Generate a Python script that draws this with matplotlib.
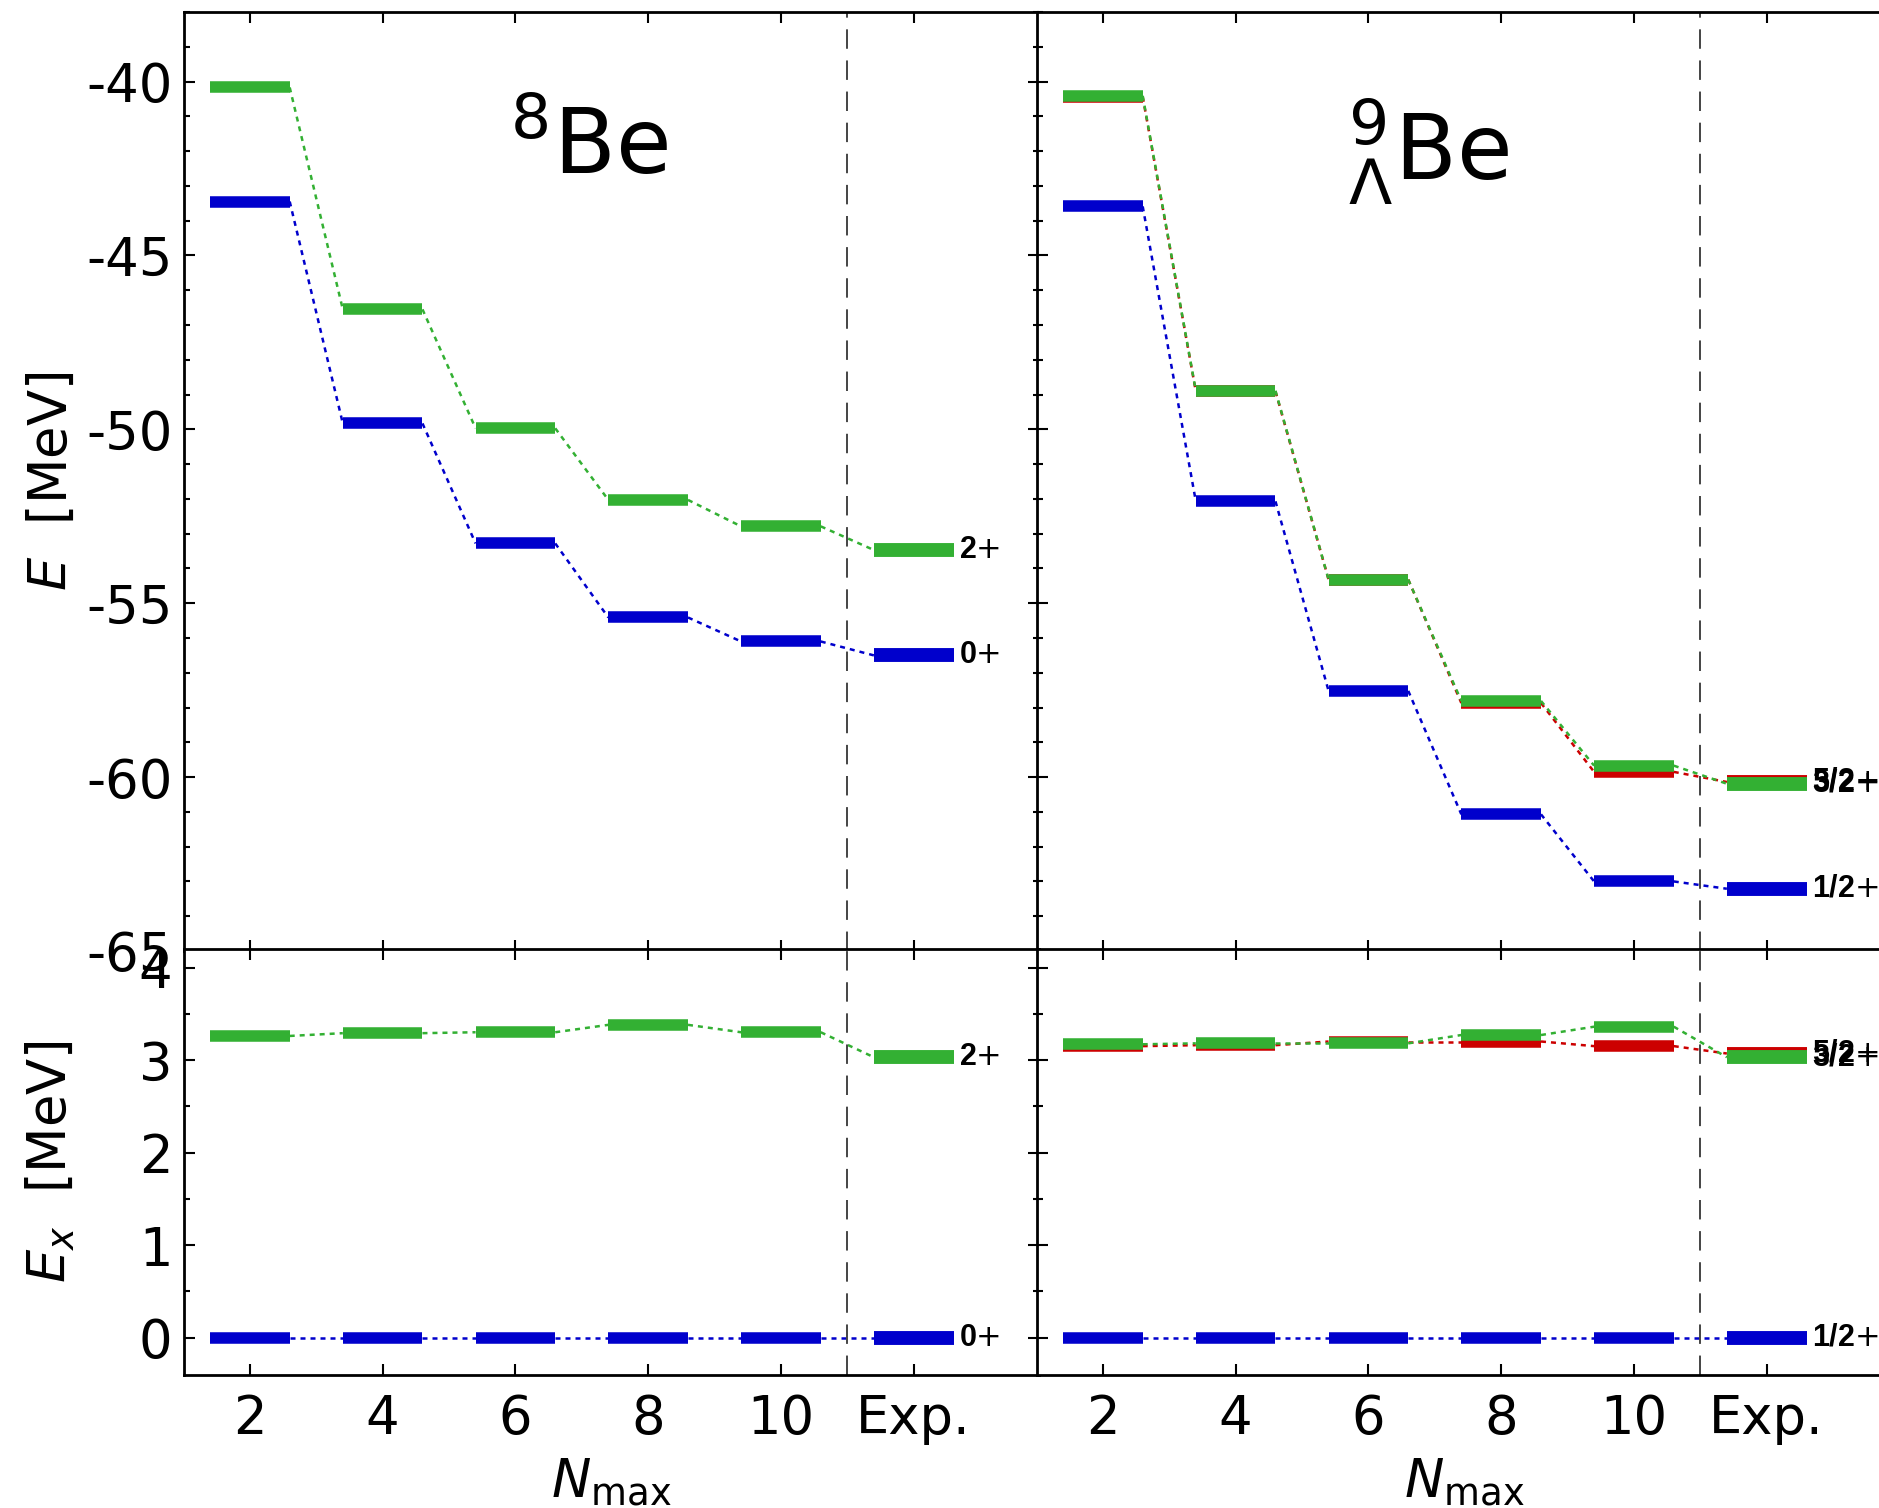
import numpy as np
import matplotlib
matplotlib.use("Agg")
import matplotlib.pyplot as plt

plt.rcParams['axes.unicode_minus'] = False
plt.rcParams['font.family'] = 'DejaVu Sans'
plt.rcParams['mathtext.fontset'] = 'dejavusans'

# x categories
nmax_labels = ["2", "4", "6", "8", "10", "Exp."]

# 8Be: absolute energies (MeV)
be8_0p = [-43.45, -49.83, -53.28, -55.41, -56.10, -56.50]
be8_2p = [-40.17, -46.55, -49.97, -52.03, -52.79, -53.47]
# 8Be: excitation energies
be8_ex_0p = [0.0, 0.0, 0.0, 0.0, 0.0, 0.0]
be8_ex_2p = [3.26, 3.29, 3.30, 3.38, 3.30, 3.03]

# 9_Lambda Be: absolute energies
l9be_12p = [-43.59, -52.07, -57.52, -61.07, -63.00, -63.21]
l9be_52p = [-40.44, -48.91, -54.32, -57.87, -59.85, -60.14]
l9be_32p = [-40.41, -48.89, -54.32, -57.81, -59.67, -60.19]
# 9_Lambda Be: excitation energies
l9be_ex_12p = [0.0, 0.0, 0.0, 0.0, 0.0, 0.0]
l9be_ex_52p = [3.15, 3.16, 3.20, 3.20, 3.15, 3.07]
l9be_ex_32p = [3.17, 3.18, 3.18, 3.27, 3.36, 3.03]

BLUE = '#0000cc'
GREEN = '#33b033'
RED = '#cc0000'
HW = 0.3


def levels(ax, vals, color, label=None, lsize=22):
    x = np.arange(len(vals))
    # theory bars
    ax.hlines(vals[:-1], x[:-1] - HW, x[:-1] + HW, colors=color, lw=8.3, capstyle='butt')
    # experiment bar, a bit thicker
    ax.hlines(vals[-1], x[-1] - HW, x[-1] + HW, colors=color, lw=10, capstyle='butt')
    for i in range(len(vals) - 1):
        ax.plot([x[i] + HW, x[i + 1] - HW], [vals[i], vals[i + 1]], color=color,
                lw=1.8, linestyle=(0, (2, 2)))
    if label:
        ax.text(x[-1] + HW + 0.04, vals[-1], label, color='black', fontsize=lsize,
                fontweight='bold', family='Liberation Sans', va='center', ha='left',
                clip_on=False)


W, H = 1879, 1508


def box(x0, x1, y0, y1):
    return [x0 / W, 1 - y1 / H, (x1 - x0) / W, (y1 - y0) / H]


fig = plt.figure(figsize=(W / 100, H / 100), dpi=100)
ax_tl = fig.add_axes(box(183.5, 1038.5, 12, 951))
ax_tr = fig.add_axes(box(1036.5, 1891.5, 12, 951))
ax_bl = fig.add_axes(box(183.5, 1038.5, 949, 1374.5))
ax_br = fig.add_axes(box(1036.5, 1891.5, 949, 1374.5))

levels(ax_tl, be8_0p, BLUE, "0$+$")
levels(ax_tl, be8_2p, GREEN, "2$+$")
levels(ax_bl, be8_ex_0p, BLUE, "0$+$")
levels(ax_bl, be8_ex_2p, GREEN, "2$+$")

levels(ax_tr, l9be_12p, BLUE, "1/2$+$")
levels(ax_tr, l9be_52p, RED, "5/2$+$")
levels(ax_tr, l9be_32p, GREEN, "3/2$+$")
levels(ax_br, l9be_ex_12p, BLUE, "1/2$+$")
levels(ax_br, l9be_ex_52p, RED, "5/2$+$")
levels(ax_br, l9be_ex_32p, GREEN, "3/2$+$")

for ax in (ax_tl, ax_tr, ax_bl, ax_br):
    ax.set_xlim(-0.5, 5.94)
    ax.axvline(4.5, color='#444444', lw=1.4, linestyle=(0, (10, 6)))
    ax.set_xticks(np.arange(6))
    ax.tick_params(which='both', direction='in', top=True, right=True, width=1.5)
    ax.tick_params(which='major', length=8, labelsize=38)
    ax.tick_params(which='minor', length=4)
    for s in ax.spines.values():
        s.set_linewidth(2)

for ax in (ax_tl, ax_tr):
    ax.set_ylim(-65, -38)
    ax.set_yticks([-65, -60, -55, -50, -45, -40])
    ax.set_yticks(np.arange(-65, -37, 1), minor=True)
    ax.set_xticklabels([])

for ax in (ax_bl, ax_br):
    ax.set_ylim(-0.4, 4.2)
    ax.set_yticks([0, 1, 2, 3, 4])
    ax.set_yticks(np.arange(0, 4.3, 0.5), minor=True)
    ax.set_xticklabels(nmax_labels)
    ax.tick_params(axis='x', pad=13)
    ax.set_xlabel(r"$N_{\rm max}$", fontsize=38, labelpad=8)

ax_tr.set_yticklabels([])
ax_br.set_yticklabels([])
ax_tl.tick_params(axis='y', pad=8)
ax_bl.tick_params(axis='y', pad=8)

ax_tl.set_ylabel(r"$E$  [MeV]", fontsize=38)
ax_bl.set_ylabel(r"$E_x$  [MeV]", fontsize=38)
ax_tl.yaxis.set_label_coords(-0.124, 0.5)
ax_bl.yaxis.set_label_coords(-0.124, 0.5)

ax_tl.text(1.96, -42.65, r"$^{8}$Be", fontsize=65, ha='left', va='baseline')
ax_tr.text(1.85, -42.83, r"$^{9}_{\Lambda}$Be", fontsize=65, ha='left', va='baseline')

fig.savefig("out.png", dpi=100)
